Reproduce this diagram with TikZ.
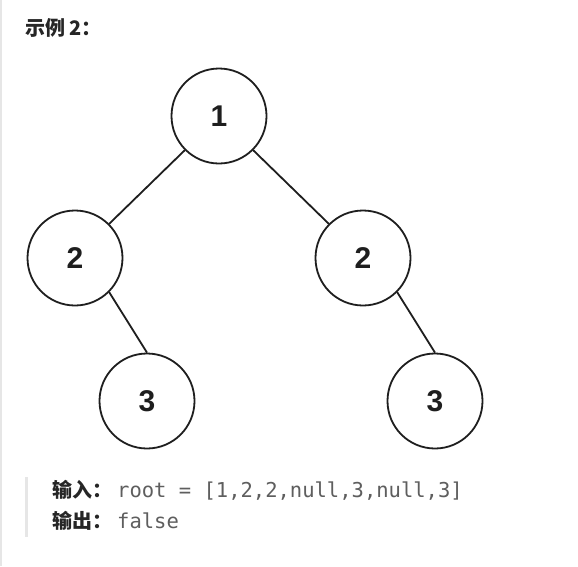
\documentclass[tikz,border=0pt]{standalone}
\usepackage{fontspec}
\setmainfont{Liberation Sans}
\newfontfamily\cjkfont{Noto Sans CJK SC}
\newfontfamily\monofont{DejaVu Sans Mono}
\definecolor{ink}{HTML}{1E1E1E}
\definecolor{titleink}{HTML}{262626}
\definecolor{monoink}{HTML}{5E5E5E}
\definecolor{barline}{HTML}{E6E6E6}
\begin{document}
\begin{tikzpicture}[x=1pt,y=-1pt,
  treenode/.style={circle,draw=ink,line width=1.8pt,minimum size=95pt,inner sep=0pt,
    font=\fontsize{30}{32}\selectfont\bfseries,text=ink},
  edge/.style={draw=ink,line width=1.8pt},
  cjklabel/.style={anchor=base west,inner sep=0pt,font=\cjkfont\fontsize{20}{24}\selectfont\bfseries,text=titleink},
  monotext/.style={anchor=base west,inner sep=0pt,font=\monofont\fontsize{20.5}{24}\selectfont,text=monoink}]
\useasboundingbox (0,0) rectangle (578,566);
\fill[white] (0,0) rectangle (578,566);
\fill[barline] (0,0) rectangle (2,566);
\fill[barline] (25,477) rectangle (27.5,537);

\node[cjklabel] (title) at (25,35) {示例 2：};

\node[treenode] (n1) at (219,116) {1};
\node[treenode] (n2l) at (75,258) {2};
\node[treenode] (n2r) at (363,258) {2};
\node[treenode] (n3l) at (147,401) {3};
\node[treenode] (n3r) at (435,401) {3};

\draw[edge] (n1.south west) -- (n2l.north east);
\draw[edge] (n1.south east) -- (n2r.north west);
\draw[edge] (n2l.south east) -- (n3l.north);
\draw[edge] (n2r.south east) -- (n3r.north);

\node[cjklabel] (inlabel) at (52,497.5) {输入：};
\node[monotext] (inval) at (117,497.5) {root = [1,2,2,null,3,null,3]};
\node[cjklabel] (outlabel) at (52,528) {输出：};
\node[monotext] (outval) at (117,528) {false};
\end{tikzpicture}
\end{document}
